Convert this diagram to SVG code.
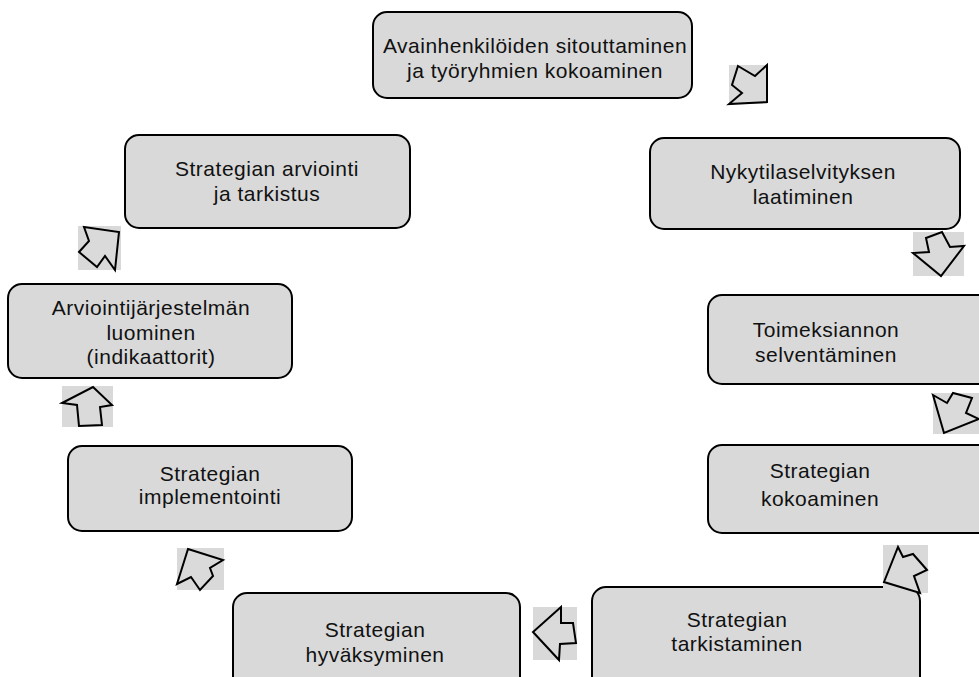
<svg xmlns="http://www.w3.org/2000/svg" width="979" height="677" viewBox="0 0 979 677">
<style>
.box{fill:#d9d9d9;stroke:#000;stroke-width:2}
.bg{fill:#d9d9d9}
.arr{fill:#dadada;stroke:#000;stroke-width:2;stroke-linejoin:miter}
text{font-family:"Liberation Sans",Arial,sans-serif;font-size:21px;fill:#111;text-anchor:middle;letter-spacing:0.5px}
</style>
<rect width="979" height="677" fill="#fff"/>
<g id="n1"><rect class="box" x="373" y="12" width="319" height="86" rx="14"/><text x="535" y="53">Avainhenkilöiden sitouttaminen</text><text x="535" y="78">ja työryhmien kokoaminen</text></g>
<g id="n2"><rect class="box" x="650" y="138" width="310" height="91" rx="14"/><text x="803" y="179">Nykytilaselvityksen</text><text x="803" y="204">laatiminen</text></g>
<g id="n3"><rect class="box" x="708" y="295" width="290" height="89" rx="14"/><text x="826" y="337">Toimeksiannon</text><text x="826" y="362">selventäminen</text></g>
<g id="n4"><rect class="box" x="708" y="445" width="290" height="88" rx="14"/><text x="820" y="478">Strategian</text><text x="820" y="506">kokoaminen</text></g>
<g id="n5"><rect class="box" x="592" y="587" width="328" height="110" rx="14"/><text x="737" y="627">Strategian</text><text x="737" y="651">tarkistaminen</text></g>
<g id="n6"><rect class="box" x="233" y="593" width="287" height="110" rx="14"/><text x="375" y="637">Strategian</text><text x="375" y="662">hyväksyminen</text></g>
<g id="n7"><rect class="box" x="68" y="446" width="284" height="85" rx="14"/><text x="210" y="481">Strategian</text><text x="210" y="504">implementointi</text></g>
<g id="n8"><rect class="box" x="8" y="284" width="284" height="94" rx="14"/><text x="151" y="315">Arviointijärjestelmän</text><text x="151" y="340">luominen</text><text x="151" y="364">(indikaattorit)</text></g>
<g id="n9"><rect class="box" x="125" y="135" width="285" height="93" rx="14"/><text x="267" y="176">Strategian arviointi</text><text x="267" y="201">ja tarkistus</text></g>
<g id="connectors">
<g id="a1"><rect class="bg" x="729" y="65" width="38" height="39"/><polygon class="arr" points="738,66 755,76 767,65 767,102 729,104 742,93 732,85"/></g>
<g id="a2"><rect class="bg" x="913" y="232" width="51" height="44"/><polygon class="arr" points="926,238 942,232 950,247 964,246 941,276 913,253 929,252"/></g>
<g id="a3"><rect class="bg" x="933" y="393" width="46" height="41"/><polygon class="arr" points="933,395 947,403 953,393 972,398 966,413 979,419 944,433"/></g>
<g id="a4"><rect class="bg" x="883" y="545" width="45" height="48"/><polygon class="arr" points="898,547 903,557 913,554 927,570 914,576 920,593 884,582"/></g>
<g id="a6"><rect class="bg" x="533" y="607" width="44" height="53"/><polygon class="arr" points="561,607 561,623 573,623 576,643 560,644 559,660 533,632"/></g>
<g id="a7"><rect class="bg" x="177" y="548" width="47" height="42"/><polygon class="arr" points="188,549 223,560 210,568 213,576 200,590 191,577 177,584"/></g>
<g id="a8"><rect class="bg" x="62" y="386" width="51" height="41"/><polygon class="arr" points="93,387 112,405 100,407 102,425 79,426 77,405 62,403"/></g>
<g id="a9"><rect class="bg" x="78" y="226" width="43" height="44"/><polygon class="arr" points="84,227 119,232 115,270 105,256 97,267 79,252 89,241"/></g>
</g>
</svg>
